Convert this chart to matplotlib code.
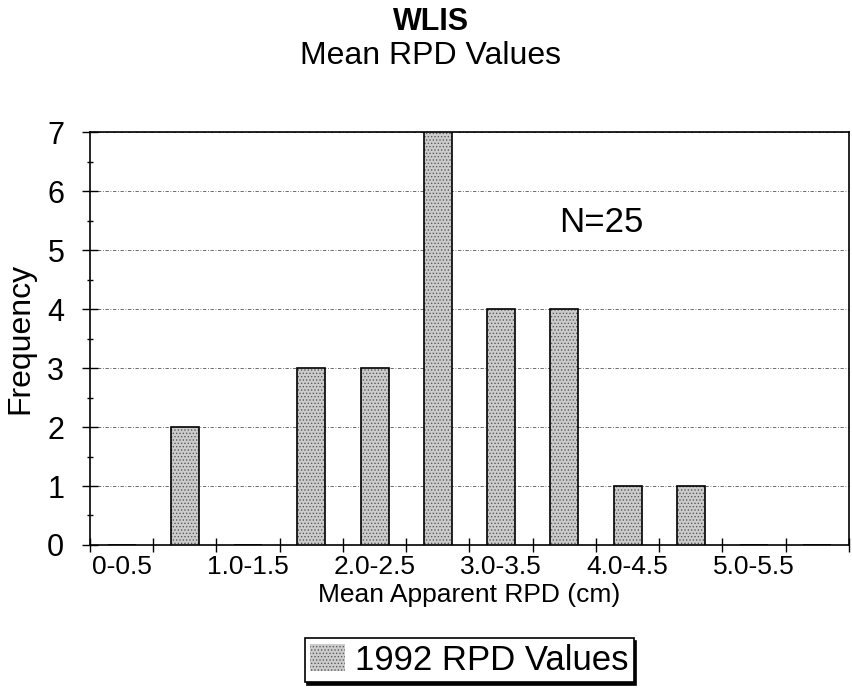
import numpy as np
import matplotlib.pyplot as plt
from matplotlib.patches import Patch

plt.rcParams['font.family'] = ['Liberation Sans', 'DejaVu Sans']
plt.rcParams['hatch.linewidth'] = 0.6

categories = ['0-0.5', '0.5-1.0', '1.0-1.5', '1.5-2.0', '2.0-2.5', '2.5-3.0',
              '3.0-3.5', '3.5-4.0', '4.0-4.5', '4.5-5.0', '5.0-5.5', '5.5-6.0']
counts = [0, 2, 0, 3, 3, 7, 4, 4, 1, 1, 0, 0]
series_name = '1992 RPD Values'
n_total = 25

fig, ax = plt.subplots(figsize=(8.53, 6.89), dpi=100)
fig.subplots_adjust(left=0.1055, right=0.9953, bottom=0.209, top=0.8084)

x = np.arange(len(categories))
fill = '#cccccc'
ax.bar(x, counts, width=0.44, color=fill, edgecolor='#5a5a5a', hatch='.....',
       linewidth=0, zorder=3)
ax.bar(x, counts, width=0.44, fill=False, edgecolor='black', linewidth=1.2, zorder=4)

ax.set_xlim(-0.5, len(categories) - 0.5)
ax.set_ylim(0, 7)

# category boundaries as ticks, labels on every other category
ax.set_xticks(np.arange(len(categories) + 1) - 0.5)
ax.set_xticklabels([])
ax.set_xticks(x[::2], minor=True)
ax.set_xticklabels(categories[::2], minor=True, fontsize=19)
ax.tick_params(axis='x', which='major', direction='inout', length=10, width=1)
ax.tick_params(axis='x', which='minor', length=0, pad=7)

ax.set_yticks(range(8))
ax.set_yticks(np.arange(0.5, 7, 1), minor=True)
ax.tick_params(axis='y', which='major', direction='inout', length=11, width=1,
               labelsize=22, pad=13)
ax.tick_params(axis='y', which='minor', direction='inout', length=5, width=1)
ax.yaxis.grid(True, which='major', color='#555555', linestyle=(0, (4, 2, 1, 2)),
              linewidth=0.6, zorder=0)

for s in ax.spines.values():
    s.set_linewidth(1.2)

ax.set_xlabel('Mean Apparent RPD (cm)', fontsize=19, labelpad=3)
ax.set_ylabel('Frequency', fontsize=23)
ax.yaxis.set_label_coords(-0.072, 0.5)

ax.text(7.59, 5.47, f'N={n_total}', fontsize=25, ha='center', va='center')

fig.text(0.505, 0.968, 'WLIS', fontsize=22, fontweight='bold', ha='center', va='center')
fig.text(0.505, 0.918, 'Mean RPD Values', fontsize=23, ha='center', va='center')

handle = Patch(facecolor=fill, edgecolor='#5a5a5a', hatch='.....', linewidth=0)
leg = fig.legend([handle], [series_name], loc='center', bbox_to_anchor=(0.55, 0.042),
                 fontsize=25, frameon=True, fancybox=False, edgecolor='black',
                 shadow={'color': 'black', 'alpha': 1}, borderpad=0.15,
                 handlelength=1.0, handleheight=0.85, handletextpad=0.3,
                 borderaxespad=0)
leg.get_frame().set_linewidth(1.2)

fig.savefig('out.png', dpi=100)
